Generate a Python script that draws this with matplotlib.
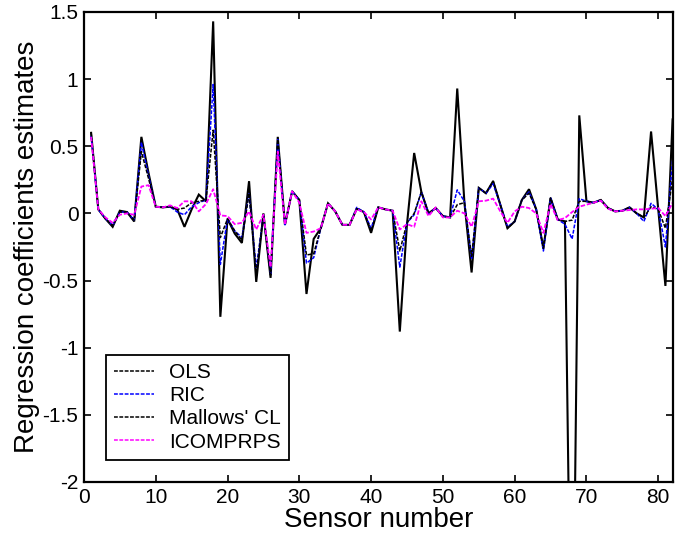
import numpy as np
import matplotlib
matplotlib.use("Agg")
import matplotlib.pyplot as plt
from matplotlib.lines import Line2D

plt.rcParams['font.family'] = ['Liberation Sans', 'DejaVu Sans']
plt.rcParams['axes.unicode_minus'] = False

# sensor numbers 1..82
sensors = list(range(1, 83))

ols = [0.60, 0.03, -0.04, -0.10, 0.02, 0.01, -0.06, 0.57, 0.30, 0.05,
       0.045, 0.05, 0.03, -0.10, 0.03, 0.14, 0.09, 1.43, -0.77, -0.04,
       -0.15, -0.22, 0.24, -0.51, 0.00, -0.48, 0.57, -0.085, 0.165, 0.10,
       -0.60, -0.19, -0.11, 0.075, 0.015, -0.085, -0.085, 0.035, 0.01, -0.145,
       0.045, 0.03, 0.02, -0.88, -0.08, 0.45, 0.16, 0.00, 0.04, -0.02,
       -0.03, 0.93, 0.08, -0.44, 0.19, 0.15, 0.24, 0.065, -0.11, -0.06,
       0.10, 0.18, 0.03, -0.26, 0.115, -0.045, -0.06, -4.0, 0.73, 0.09,
       0.08, 0.10, 0.04, 0.015, 0.02, 0.045, 0.00, -0.03, 0.61, 0.03,
       -0.54, 0.70]

ric = [0.58, 0.03, -0.04, -0.09, 0.01, 0.01, -0.05, 0.53, 0.28, 0.05,
       0.045, 0.05, 0.01, -0.01, 0.05, 0.08, 0.10, 0.96, -0.38, -0.04,
       -0.13, -0.18, 0.15, -0.41, -0.01, -0.45, 0.55, -0.085, 0.165, 0.10,
       -0.37, -0.33, -0.11, 0.075, 0.015, -0.085, -0.085, 0.045, 0.01, -0.11,
       0.045, 0.03, 0.02, -0.40, -0.07, -0.01, 0.16, 0.00, 0.04, -0.02,
       -0.03, 0.175, 0.09, -0.34, 0.19, 0.15, 0.22, 0.065, -0.10, -0.06,
       0.10, 0.16, 0.03, -0.28, 0.115, -0.045, -0.08, -0.19, 0.11, 0.09,
       0.08, 0.10, 0.04, 0.015, 0.02, 0.045, 0.00, -0.06, 0.075, 0.03,
       -0.25, 0.40]

mallows = [0.60, 0.03, -0.04, -0.09, 0.01, 0.01, -0.05, 0.46, 0.26, 0.05,
           0.045, 0.05, 0.03, 0.04, 0.08, 0.09, 0.10, 0.62, -0.18, -0.04,
           -0.13, -0.20, 0.15, -0.45, -0.01, -0.46, 0.55, -0.085, 0.165, 0.10,
           -0.31, -0.30, -0.11, 0.075, 0.015, -0.085, -0.085, 0.035, 0.01, -0.13,
           0.045, 0.03, 0.02, -0.28, -0.07, 0.00, 0.16, 0.00, 0.04, -0.02,
           -0.03, 0.065, 0.08, -0.32, 0.19, 0.15, 0.24, 0.065, -0.11, -0.06,
           0.10, 0.15, 0.03, -0.26, 0.115, -0.045, -0.06, -0.05, 0.09, 0.09,
           0.08, 0.10, 0.04, 0.015, 0.02, 0.045, 0.00, -0.03, 0.05, 0.03,
           -0.11, 0.26]

icomp = [0.57, 0.03, -0.03, -0.07, -0.01, 0.00, -0.01, 0.20, 0.21, 0.05,
         0.045, 0.06, 0.04, 0.09, 0.09, 0.015, 0.07, 0.18, -0.015, -0.02,
         -0.08, -0.07, 0.015, -0.12, -0.01, -0.40, 0.46, -0.085, 0.165, 0.08,
         -0.145, -0.135, -0.11, 0.075, 0.015, -0.085, -0.085, 0.03, 0.01, -0.045,
         0.045, 0.03, 0.02, -0.12, -0.08, -0.10, 0.09, -0.02, 0.045, -0.03,
         -0.03, 0.02, 0.00, -0.10, 0.09, 0.095, 0.11, 0.015, -0.07, 0.015,
         0.05, 0.04, 0.00, -0.145, 0.07, -0.05, -0.035, 0.01, 0.05, 0.065,
         0.08, 0.095, 0.035, 0.015, 0.02, 0.025, 0.03, 0.03, 0.035, 0.04,
         -0.02, 0.08]

labels = ['OLS', 'RIC', "Mallows' CL", 'ICOMPRPS']

fig = plt.figure(figsize=(6.77, 5.44), dpi=100)
ax = fig.add_axes([0.124, 0.114, 0.8695, 0.864])

dash = (0, (2.5, 1))
ax.plot(sensors, ols, color='black', lw=1.5, solid_joinstyle='miter')
ax.plot(sensors, ric, color='#0000ff', lw=1.1, linestyle=dash)
ax.plot(sensors, mallows, color='black', lw=1.1, linestyle=dash)
ax.plot(sensors, icomp, color='#ff00ff', lw=1.3, linestyle=dash)

ax.set_xlim(0, 82)
ax.set_ylim(-2, 1.5)
ax.set_xticks(range(0, 81, 10))
ax.set_yticks([-2, -1.5, -1, -0.5, 0, 0.5, 1, 1.5])
ax.set_yticklabels(['-2', '-1.5', '-1', '-0.5', '0', '0.5', '1', '1.5'])
ax.tick_params(direction='in', length=5, width=1.2, top=True, right=True,
               labelsize=15, pad=4)
for s in ax.spines.values():
    s.set_linewidth(1.6)

ax.set_xlabel('Sensor number', fontsize=20, labelpad=0)
ax.set_ylabel('Regression coefficients estimates', fontsize=20, labelpad=2)

handles = [Line2D([], [], color=c, lw=1.1, linestyle=dash)
           for c in ['black', '#0000ff', 'black', '#ff00ff']]
leg = ax.legend(handles, labels, loc='lower left', bbox_to_anchor=(0.037, 0.047),
                borderaxespad=0, fontsize=15, fancybox=False, framealpha=1,
                handlelength=1.9, handletextpad=0.75, labelspacing=0.2,
                borderpad=0.4)
leg.get_frame().set_edgecolor('black')
leg.get_frame().set_linewidth(1.3)

fig.savefig('out.png', dpi=100)
